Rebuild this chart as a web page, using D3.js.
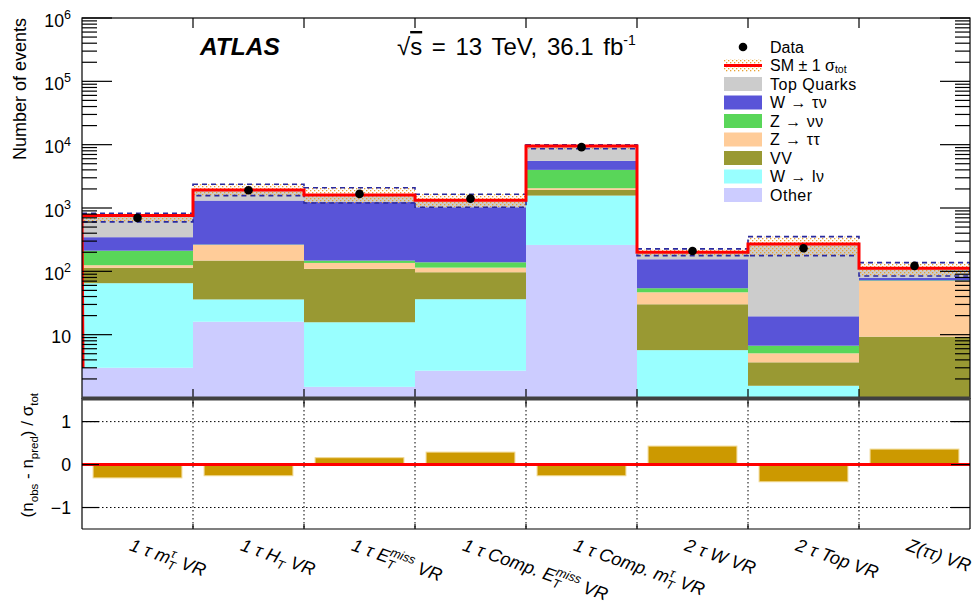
<!DOCTYPE html>
<html><head><meta charset="utf-8">
<script src="https://cdn.jsdelivr.net/npm/d3@7"></script>
<style>
body{margin:0;background:#fff;}
svg{display:block;font-family:"Liberation Sans",Arial,Helvetica,sans-serif;}
</style></head><body>
<svg id="c" width="979" height="606"></svg>
<script>
// ---------------- data ----------------
const categories = ["1 τ m_{T}^{τ} VR","1 τ H_{T} VR","1 τ E_{T}^{miss} VR","1 τ Comp. E_{T}^{miss} VR",
                    "1 τ Comp. m_{T}^{τ} VR","2 τ W VR","2 τ Top VR","Z(ττ) VR"];
const other     = [3.0, 16,   1.5,  2.7,  261,  0.5, 0.5,  0.3];
const wlnu      = [62,  20,   14.2, 33.6, 1310, 5.2, 1.06, 0.3];
const vv        = [49,  112,  94,   60.5, 361,  24.5,2.1,  8.7];
const ztautau   = [11,  113,  26,   17.7, 123,  16.5,1.42, 61.2];
const znunu     = [87,  4,    12,   24.5, 1945, 7.4, 1.62, 1.5];
const wtaunu    = [134, 1045, 1112, 889,  1550, 101, 12.8, 7.5];
const topQuarks = [414, 620,  350,  300,  4020, 45,  251.5,32.5];
const dataObs   = [698, 1910, 1670, 1408, 9140, 210, 232,  122];
const bandUpper = [828, 2377, 2090, 1652, 9930, 226, 353,  137];
const bandLower = [603, 1571, 1200, 1028, 8600, 177, 177,  84.6];
const significance = [-0.31,-0.26,0.16,0.29,-0.26,0.43,-0.40,0.36];
const seriesNames  = ["Other","W → lν","VV","Z → ττ","Z → νν","W → τν","Top Quarks"];
const seriesColors = ["#ccccff","#99ffff","#999933","#ffcc99","#59d659","#5954d8","#cccccc"];
const seriesValues = [other,wlnu,vv,ztautau,znunu,wtaunu,topQuarks];
const yTickExponents = [1,2,3,4,5,6];
const ratioTicks = [-1,0,1];
const legendOrder = ["Top Quarks","W → τν","Z → νν","Z → ττ","VV","W → lν","Other"];

// ---------------- layout ----------------
const svg = d3.select("#c");
const L=82,R=970,T=18,MB=398,RB=529;
const x = d3.scaleBand().domain(categories).range([L,R]).padding(0);
const y = d3.scaleLog().domain([1,1e6]).range([MB,T]);
const yr = d3.scaleLinear().domain([-1.5,1.55]).range([RB,MB]);
const yc = v => y(Math.max(v,1));
const bw = x.bandwidth();

const defs = svg.append("defs");
const pat = defs.append("pattern").attr("id","dots").attr("width",4).attr("height",4).attr("patternUnits","userSpaceOnUse");
pat.append("rect").attr("x",0).attr("y",0).attr("width",1.3).attr("height",1.3).attr("fill","#e8a030");
pat.append("rect").attr("x",2).attr("y",2).attr("width",1.3).attr("height",1.3).attr("fill","#e8a030");
defs.append("clipPath").attr("id","mainclip").append("rect").attr("x",L).attr("y",T).attr("width",R-L).attr("height",MB-T);

// stack
const table = categories.map((c,i)=>{const o={cat:c}; seriesNames.forEach((n,k)=>o[n]=seriesValues[k][i]); return o;});
const stacked = d3.stack().keys(seriesNames)(table);
const gMain = svg.append("g").attr("clip-path","url(#mainclip)");
stacked.forEach((layer,k)=>{
  gMain.append("g").selectAll("rect").data(layer).enter().append("rect")
    .attr("x",d=>x(d.data.cat)).attr("width",bw)
    .attr("y",d=>yc(d[1])).attr("height",d=>Math.max(0,yc(d[0])-yc(d[1])))
    .attr("fill",seriesColors[k]);
});
const totals = table.map((d,i)=>stacked[stacked.length-1][i][1]);

// uncertainty band
categories.forEach((c,i)=>{
  const y0=y(bandUpper[i]), y1=y(bandLower[i]);
  gMain.append("rect").attr("x",x(c)).attr("width",bw).attr("y",y0).attr("height",y1-y0)
    .attr("fill","url(#dots)").attr("stroke","#2a2aa0").attr("stroke-width",1.6).attr("stroke-dasharray","5,4");
});

// SM line
const pts = [[L+1, yc(other[0])]];
categories.forEach((c,i)=>{pts.push([x(c),y(totals[i])]); pts.push([x(c)+bw,y(totals[i])]);});
gMain.append("path").attr("d",d3.line()(pts)).attr("fill","none").attr("stroke","#ff0000").attr("stroke-width",3);

// data
gMain.append("g").selectAll("circle").data(dataObs).enter().append("circle")
  .attr("cx",(d,i)=>x(categories[i])+bw/2).attr("cy",d=>y(d)).attr("r",4.3).attr("fill","#000");

// ---------------- main axes ----------------
const ax = svg.append("g").attr("stroke","#000").attr("stroke-width",1.2);
ax.append("rect").attr("x",L).attr("y",T).attr("width",R-L).attr("height",MB-T).attr("fill","none");
for(let k=0;k<6;k++){
  for(let m=1;m<=9;m++){
    const v=m*Math.pow(10,k); if(v<=1) continue;
    const yy=y(v); const len = m===1?30:15;
    ax.append("line").attr("x1",L).attr("x2",L+len).attr("y1",yy).attr("y2",yy);
    ax.append("line").attr("x1",R-len).attr("x2",R).attr("y1",yy).attr("y2",yy);
  }
}
ax.append("line").attr("x1",L).attr("x2",L+30).attr("y1",y(1e6)).attr("y2",y(1e6));
ax.append("line").attr("x1",R-30).attr("x2",R).attr("y1",y(1e6)).attr("y2",y(1e6));
categories.slice(1).forEach(c=>{
  const xx=x(c);
  ax.append("line").attr("x1",xx).attr("x2",xx).attr("y1",T).attr("y2",T+10);
  ax.append("line").attr("x1",xx).attr("x2",xx).attr("y1",MB-9).attr("y2",MB);
});
yTickExponents.forEach(e=>{
  const t = svg.append("text").attr("x",71).attr("y",y(Math.pow(10,e))+8.5).attr("text-anchor","end").attr("font-size",17.7).text("10");
  if(e>1) t.append("tspan").attr("font-size",12.5).attr("dy",-7.5).text(e);
});

// ---------------- ratio panel ----------------
const gr = svg.append("g");
const dot = {stroke:"#000","stroke-width":1,"stroke-dasharray":"1.5,2.5"};
[1,-1].forEach(v=>{
  const l=gr.append("line").attr("x1",L).attr("x2",R).attr("y1",yr(v)).attr("y2",yr(v));
  Object.entries(dot).forEach(([a,b])=>l.attr(a,b));
});
categories.slice(1).forEach(c=>{
  const l=gr.append("line").attr("x1",x(c)).attr("x2",x(c)).attr("y1",MB).attr("y2",RB);
  Object.entries(dot).forEach(([a,b])=>l.attr(a,b));
  gr.append("line").attr("x1",x(c)).attr("x2",x(c)).attr("y1",MB).attr("y2",MB+8).attr("stroke","#000").attr("stroke-width",1.2);
  gr.append("line").attr("x1",x(c)).attr("x2",x(c)).attr("y1",RB-5).attr("y2",RB).attr("stroke","#000").attr("stroke-width",1.2);
});
gr.append("g").selectAll("rect").data(significance).enter().append("rect")
  .attr("x",(d,i)=>x(categories[i])+bw*0.1).attr("width",bw*0.8)
  .attr("y",d=>Math.min(yr(d),yr(0))).attr("height",d=>Math.abs(yr(d)-yr(0)))
  .attr("fill","#cc9900").attr("stroke","#f0d890").attr("stroke-width",1);
gr.append("line").attr("x1",L).attr("x2",R).attr("y1",yr(0)).attr("y2",yr(0)).attr("stroke","#ff0000").attr("stroke-width",3);
gr.append("line").attr("x1",L).attr("x2",L).attr("y1",MB).attr("y2",RB).attr("stroke","#000").attr("stroke-width",1.2);
gr.append("line").attr("x1",R).attr("x2",R).attr("y1",MB).attr("y2",RB).attr("stroke","#000").attr("stroke-width",1.2);
gr.append("line").attr("x1",L).attr("x2",R).attr("y1",RB).attr("y2",RB).attr("stroke","#000").attr("stroke-width",1.2);
ratioTicks.forEach(v=>{
  gr.append("line").attr("x1",L).attr("x2",L+17).attr("y1",yr(v)).attr("y2",yr(v)).attr("stroke","#000").attr("stroke-width",1.2);
  gr.append("line").attr("x1",R-19).attr("x2",R).attr("y1",yr(v)).attr("y2",yr(v)).attr("stroke","#000").attr("stroke-width",1.2);
  gr.append("text").attr("x",71).attr("y",yr(v)+6.5).attr("text-anchor","end").attr("font-size",17.7).text(v<0?"−"+Math.abs(v):String(v));
});
// thick separator
svg.append("line").attr("x1",L).attr("x2",R).attr("y1",MB+0.5).attr("y2",MB+0.5).attr("stroke","#404040").attr("stroke-width",4);

// ---------------- rich text helper ----------------
function rich(sel, str, base, small, subOff, supOff){
  const re=/_\{([^}]*)\}(\^\{([^}]*)\})?/g; let last=0,m; const parts=[];
  while((m=re.exec(str))){ if(m.index>last) parts.push({t:str.slice(last,m.index)}); parts.push({sub:m[1],sup:m[3]}); last=re.lastIndex; }
  if(last<str.length) parts.push({t:str.slice(last)});
  let cur=0, pendDx=0;
  parts.forEach(p=>{
    if(p.t!==undefined){ sel.append("tspan").attr("font-size",base).attr("dy",0-cur).attr("dx",pendDx).text(p.t); cur=0; pendDx=0; }
    else{
      const s=sel.append("tspan").attr("font-size",small).attr("dy",subOff-cur).attr("dx",pendDx).text(p.sub); cur=subOff; pendDx=0;
      if(p.sup){
        const ls=s.node().getComputedTextLength();
        const u=sel.append("tspan").attr("font-size",small).attr("dx",-ls).attr("dy",-supOff-cur).text(p.sup); cur=-supOff;
        const lu=u.node().getComputedTextLength();
        if(ls>lu) pendDx=ls-lu;
      }
    }
  });
}

// x labels
categories.forEach(c=>{
  const t=svg.append("text").attr("transform",`translate(${x(c)+bw/2-9},550) rotate(19.5)`).attr("font-style","italic");
  rich(t,c,18,12.5,4.5,7.5);
});

// y labels
svg.append("text").attr("transform","translate(26,18) rotate(-90)").attr("text-anchor","end").attr("font-size",18).text("Number of events");
const rl=svg.append("text").attr("transform","translate(33,393) rotate(-90)").attr("text-anchor","end");
rich(rl,"(n_{obs} - n_{pred}) / σ_{tot}",17,11.5,4.5,8);

// titles
svg.append("text").attr("x",200).attr("y",55).attr("font-size",24.5).attr("font-weight","bold").attr("font-style","italic").text("ATLAS");
const ts=svg.append("text").attr("x",397).attr("y",55).attr("font-size",24).attr("word-spacing",3);
ts.append("tspan").text("√");
ts.append("tspan").attr("text-decoration","overline").text("s");
ts.append("tspan").text(" = 13 TeV, 36.1 fb");
ts.append("tspan").attr("font-size",14).attr("dy",-10).text("-1");

// ---------------- legend ----------------
const lg=svg.append("g");
const rowY = i=>47+i*18.5;
const lfs=16;
lg.append("circle").attr("cx",743).attr("cy",rowY(0)).attr("r",4.3).attr("fill","#000");
lg.append("text").attr("x",770).attr("y",rowY(0)+5.8).attr("font-size",lfs).text("Data");
lg.append("rect").attr("x",724).attr("y",rowY(1)-6.5).attr("width",38).attr("height",13).attr("fill","url(#dots)");
lg.append("line").attr("x1",724).attr("x2",762).attr("y1",rowY(1)).attr("y2",rowY(1)).attr("stroke","#ff0000").attr("stroke-width",3);
const smt=lg.append("text").attr("x",770).attr("y",rowY(1)+5.2);
rich(smt,"SM ± 1 σ_{tot}",lfs,10.5,2.5,8);
legendOrder.forEach((n,j)=>{
  const k=seriesNames.indexOf(n); const yy=rowY(j+2);
  lg.append("rect").attr("x",724).attr("y",yy-7).attr("width",38).attr("height",14).attr("fill",seriesColors[k]);
  lg.append("text").attr("x",770).attr("y",yy+5.8).attr("font-size",lfs).attr("letter-spacing",0.5).text(n);
});
</script></body></html>
